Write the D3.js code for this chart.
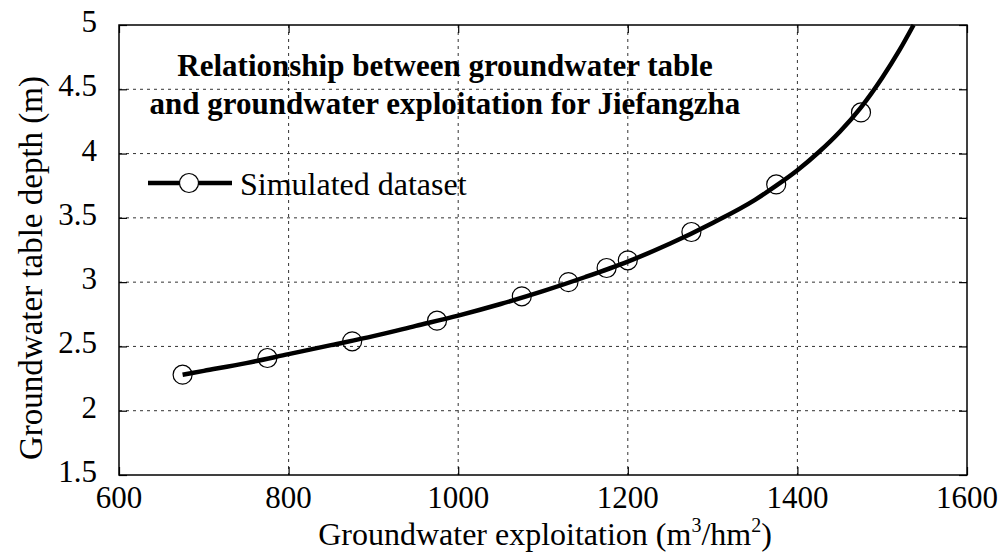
<!DOCTYPE html>
<html>
<head>
<meta charset="utf-8">
<script src="https://cdn.jsdelivr.net/npm/d3@7"></script>
<style>
  body { margin: 0; background: #fff; }
  text { font-family: "Liberation Serif", "Times New Roman", serif; fill: #000; }
</style>
</head>
<body>
<div id="chart"></div>
<script>
// observed (simulated) points
var obsX = [675, 775, 875, 975, 1075, 1130, 1175, 1200, 1275, 1375, 1475];
var obsY = [2.28, 2.41, 2.54, 2.70, 2.89, 3.00, 3.11, 3.17, 3.39, 3.76, 4.32];

// fitted curve
var fitX = [675, 700, 750, 800, 850, 900, 950, 1000, 1050, 1100, 1150, 1200, 1250, 1300, 1350, 1375, 1400, 1425, 1450, 1475, 1500, 1520, 1537];
var fitY = [2.28, 2.31, 2.37, 2.44, 2.51, 2.58, 2.66, 2.74, 2.83, 2.93, 3.04, 3.16, 3.30, 3.46, 3.64, 3.75, 3.87, 4.01, 4.17, 4.36, 4.59, 4.80, 5.0];

var xTicks = [600, 800, 1000, 1200, 1400, 1600];
var yTicks = [1.5, 2, 2.5, 3, 3.5, 4, 4.5, 5];

var width = 1002, height = 555;
var margin = {top: 25, bottom: 80, left: 119, right: 35};
var w = width - margin.left - margin.right;
var h = height - margin.top - margin.bottom;

var svg = d3.select("#chart").append("svg")
  .attr("width", width)
  .attr("height", height);

var g = svg.append("g")
  .attr("transform", "translate(" + margin.left + "," + margin.top + ")");

var x = d3.scaleLinear().domain([600, 1600]).range([0, w]);
var y = d3.scaleLinear().domain([1.5, 5]).range([h, 0]);

// grid
g.selectAll(".vgrid").data(xTicks.slice(1, -1))
  .enter().append("line")
  .attr("x1", function(d) { return x(d); })
  .attr("x2", function(d) { return x(d); })
  .attr("y1", 0).attr("y2", h)
  .style("stroke", "#333").style("stroke-width", 1)
  .style("stroke-dasharray", "3,4");
g.selectAll(".hgrid").data(yTicks.slice(1, -1))
  .enter().append("line")
  .attr("y1", function(d) { return y(d); })
  .attr("y2", function(d) { return y(d); })
  .attr("x1", 0).attr("x2", w)
  .style("stroke", "#333").style("stroke-width", 1)
  .style("stroke-dasharray", "3,4");

// axes with inward ticks on all sides
var tk = 8;
g.append("g").attr("transform", "translate(0," + h + ")")
  .call(d3.axisBottom(x).tickValues(xTicks).tickSize(-tk).tickFormat(""));
g.append("g")
  .call(d3.axisTop(x).tickValues(xTicks).tickSize(-tk).tickFormat(""));
g.append("g")
  .call(d3.axisLeft(y).tickValues(yTicks).tickSize(-tk).tickFormat(""));
g.append("g").attr("transform", "translate(" + w + ",0)")
  .call(d3.axisRight(y).tickValues(yTicks).tickSize(-tk).tickFormat(""));
g.selectAll(".domain").remove();
g.selectAll(".tick line").style("stroke", "#000").style("stroke-width", 1.2);

g.append("rect")
  .attr("width", w).attr("height", h)
  .style("fill", "none").style("stroke", "#000").style("stroke-width", 1.5);

// tick labels
g.selectAll(".xlab").data(xTicks)
  .enter().append("text")
  .attr("x", function(d) { return x(d); })
  .attr("y", h + 33)
  .attr("text-anchor", "middle")
  .style("font-size", "31px")
  .text(function(d) { return d; });
g.selectAll(".ylab").data(yTicks)
  .enter().append("text")
  .attr("x", -22)
  .attr("y", function(d) { return y(d) + 7; })
  .attr("text-anchor", "end")
  .style("font-size", "31px")
  .text(function(d) { return d; });

// fitted curve
var fit = fitX.map(function(d, i) { return {x: d, y: fitY[i]}; });
var line = d3.line()
  .x(function(d) { return x(d.x); })
  .y(function(d) { return y(d.y); })
  .curve(d3.curveMonotoneX);
g.append("path")
  .attr("d", line(fit))
  .style("fill", "none").style("stroke", "#000").style("stroke-width", 4.5);

// points
g.selectAll(".pt").data(obsX)
  .enter().append("circle")
  .attr("cx", function(d) { return x(d); })
  .attr("cy", function(d, i) { return y(obsY[i]); })
  .attr("r", 9.5)
  .style("fill", "none").style("stroke", "#000").style("stroke-width", 1.2);

// title
g.append("text")
  .attr("x", 326).attr("y", 51)
  .attr("text-anchor", "middle")
  .style("font-size", "31px").style("font-weight", "bold")
  .text("Relationship between groundwater table");
g.append("text")
  .attr("x", 326).attr("y", 89)
  .attr("text-anchor", "middle")
  .style("font-size", "31px").style("font-weight", "bold")
  .text("and groundwater exploitation for Jiefangzha");

// legend
g.append("line")
  .attr("x1", 29).attr("x2", 113).attr("y1", 158).attr("y2", 158)
  .style("stroke", "#000").style("stroke-width", 4.5);
g.append("circle")
  .attr("cx", 70).attr("cy", 158).attr("r", 9.5)
  .style("fill", "#fff").style("stroke", "#000").style("stroke-width", 1.2);
g.append("text")
  .attr("x", 121).attr("y", 170)
  .style("font-size", "32px")
  .text("Simulated dataset");

// axis labels
var xl = svg.append("text")
  .attr("x", margin.left + w / 2 + 2).attr("y", 545)
  .attr("text-anchor", "middle")
  .style("font-size", "32px");
xl.append("tspan").text("Groundwater exploitation (m");
xl.append("tspan").attr("dy", -13).style("font-size", "20px").text("3");
xl.append("tspan").attr("dy", 13).text("/hm");
xl.append("tspan").attr("dy", -13).style("font-size", "20px").text("2");
xl.append("tspan").attr("dy", 13).text(")");

svg.append("text")
  .attr("transform", "translate(42,268) rotate(-90)")
  .attr("text-anchor", "middle")
  .style("font-size", "33px")
  .text("Groundwater table depth (m)");
</script>
</body>
</html>
